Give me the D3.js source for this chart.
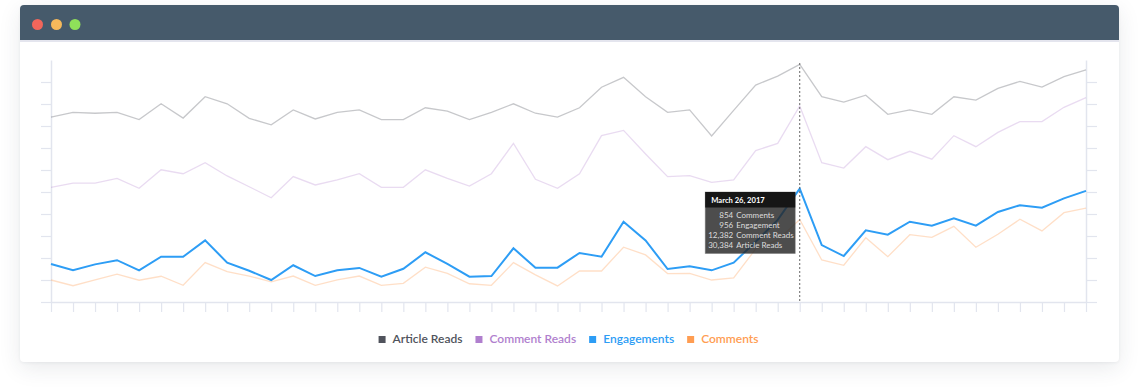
<!DOCTYPE html>
<html><head><meta charset="utf-8">
<script src="https://cdn.jsdelivr.net/npm/d3@7"></script>
<style>
html,body{margin:0;padding:0;background:#fff;width:1139px;height:392px;overflow:hidden;font-family:Lato,"Open Sans",sans-serif;}
.card{position:absolute;left:20px;top:5px;width:1099px;height:357px;background:#fff;border-radius:4px;box-shadow:0 6px 22px rgba(40,50,70,0.10),0 1px 3px rgba(40,50,70,0.06);overflow:hidden}
.bar{height:35px;background:#465a6b}
svg{position:absolute;left:0;top:0}
</style></head><body>
<div class="card"><div class="bar"></div></div>
<svg id="chart" width="1139" height="392"></svg>
<script>
// ---- data ----
const dates = d3.timeDay.range(new Date(2017,1,20), new Date(2017,3,9)).map(d3.timeFormat("%B %-d, %Y"));
const articleReads = [8.40,8.62,8.58,8.62,8.29,9.01,8.36,9.33,9.01,8.35,8.05,8.73,8.32,8.62,8.73,8.29,8.29,8.83,8.68,8.29,8.62,9.01,8.58,8.40,8.83,9.76,10.21,9.33,8.62,8.73,7.55,8.71,9.86,10.27,10.80,9.33,9.09,9.40,8.53,8.73,8.53,9.33,9.18,9.71,10.03,9.77,10.24,10.55];
const commentReads = [5.21,5.40,5.40,5.62,5.17,6.01,5.83,6.33,5.73,5.24,4.74,5.70,5.32,5.55,5.83,5.21,5.21,6.01,5.62,5.27,5.83,7.21,5.58,5.17,5.83,7.56,7.80,6.73,5.70,5.74,5.44,5.55,6.88,7.21,8.91,6.33,6.09,7.06,6.47,6.85,6.49,7.56,7.06,7.71,8.20,8.20,8.85,9.29];
const engagements = [1.73,1.44,1.71,1.90,1.44,2.06,2.06,2.80,1.79,1.42,1.00,1.67,1.18,1.44,1.55,1.15,1.51,2.26,1.73,1.15,1.18,2.44,1.56,1.56,2.23,2.06,3.65,2.80,1.50,1.62,1.44,1.79,2.74,3.73,5.15,2.59,2.09,3.26,3.06,3.65,3.47,3.80,3.47,4.09,4.40,4.29,4.71,5.05];
const comments = [1.00,0.74,1.01,1.27,0.99,1.17,0.76,1.79,1.38,1.18,0.92,1.18,0.76,1.01,1.18,0.76,0.85,1.58,1.30,0.83,0.76,1.79,1.23,0.73,1.41,1.41,2.49,2.14,1.29,1.30,1.00,1.10,2.41,2.82,3.75,1.91,1.67,2.92,2.06,3.06,2.94,3.44,2.49,3.08,3.76,3.23,4.06,4.27];
const seriesNames = ["Article Reads","Comment Reads","Engagements","Comments"];
const seriesColors = ["#50535c","#b07fce","#2d9df5","#ff9d52"];
const lineOpacity = [0.32,0.28,1,0.32];
const yTicks = [0,1,2,3,4,5,6,7,8,9,10];
const tipIndex = 34;
const tipValues = ["854","956","12,382","30,384"];
const tipLabels = ["Comments","Engagement","Comment Reads","Article Reads"];

// ---- chart ----
const svg = d3.select("#chart");
// window chrome
svg.append("rect").attr("x",20).attr("y",40).attr("width",1099).attr("height",2).attr("fill","#e4e5ee");
[["#f2665b",37.5],["#f6b95b",56.5],["#8fe05a",75]].forEach(([c,cx])=>{
  svg.append("circle").attr("cx",cx).attr("cy",24.5).attr("r",5.5).attr("fill",c);
});

const x = d3.scalePoint().domain(dates).range([51,1086]);
const y = d3.scaleLinear().domain([0,11]).range([302,60]);
const axisColor = "#e2e5ee";

function styleAxis(g){
  g.selectAll("path.domain").attr("stroke",axisColor).attr("stroke-width",1.5);
  g.selectAll(".tick line").attr("stroke",axisColor).attr("stroke-width",1.2);
  g.selectAll("text").remove();
}
svg.append("g").attr("transform","translate(51,0)")
  .call(d3.axisLeft(y).tickValues(yTicks).tickSize(10).tickSizeOuter(0).tickFormat(""))
  .call(styleAxis);
svg.append("g").attr("transform","translate(1086,0)")
  .call(d3.axisRight(y).tickValues(yTicks).tickSize(11).tickSizeOuter(0).tickFormat(""))
  .call(styleAxis);
svg.append("g").attr("transform","translate(0,302)")
  .call(d3.axisBottom(x).tickSize(10).tickSizeOuter(0).tickFormat(""))
  .call(styleAxis);

const allSeries = [articleReads, commentReads, engagements, comments];
const line = d3.line().x((d,i)=>x(dates[i])).y(d=>y(d));
// draw faded first, highlighted last
[0,1,3,2].forEach(k=>{
  svg.append("path").datum(allSeries[k])
    .attr("d",line).attr("fill","none")
    .attr("stroke",seriesColors[k]).attr("stroke-opacity",lineOpacity[k])
    .attr("stroke-width",k===2?2:1.3).attr("stroke-linejoin","miter");
});

// hover line
const hx = x(dates[tipIndex]);
svg.append("line").attr("x1",hx).attr("x2",hx).attr("y1",y(11)+3).attr("y2",302)
  .attr("stroke","#666").attr("stroke-width",1).attr("stroke-dasharray","2,2");

// tooltip
const tip = svg.append("g").attr("transform",`translate(${hx-94.5},192)`);
tip.append("rect").attr("width",90).attr("height",61.5).attr("fill","rgba(38,38,38,0.82)").attr("stroke","rgba(120,120,120,0.6)").attr("stroke-width",0.8);
tip.append("rect").attr("width",90).attr("height",15.5).attr("fill","#161616");
tip.append("text").attr("x",6).attr("y",11).attr("fill","#fff").attr("font-size",7.6).attr("font-weight",700).text(dates[tipIndex]);
tipValues.forEach((v,i)=>{
  tip.append("text").attr("x",28).attr("y",25.5+i*10).attr("text-anchor","end").attr("fill","#ddd").attr("font-size",8).text(v);
  tip.append("text").attr("x",31).attr("y",25.5+i*10).attr("fill","#ddd").attr("font-size",8).text(tipLabels[i]);
});

// legend
const lg = svg.append("g");
let cx = 0;
const items = seriesNames.map((n,i)=>{
  const g = lg.append("g");
  g.append("rect").attr("width",7).attr("height",7).attr("y",-6.5).attr("fill",seriesColors[i]);
  const t = g.append("text").attr("x",14).attr("y",0).attr("fill",seriesColors[i]).attr("font-size",12).attr("font-weight",600).text(n);
  const w = 14 + t.node().getComputedTextLength();
  g.attr("transform",`translate(${cx},0)`);
  cx += w + 13;
  return g;
});
const total = cx - 13;
lg.attr("transform",`translate(${568.5 - total/2},342.5)`);
</script>
</body></html>
